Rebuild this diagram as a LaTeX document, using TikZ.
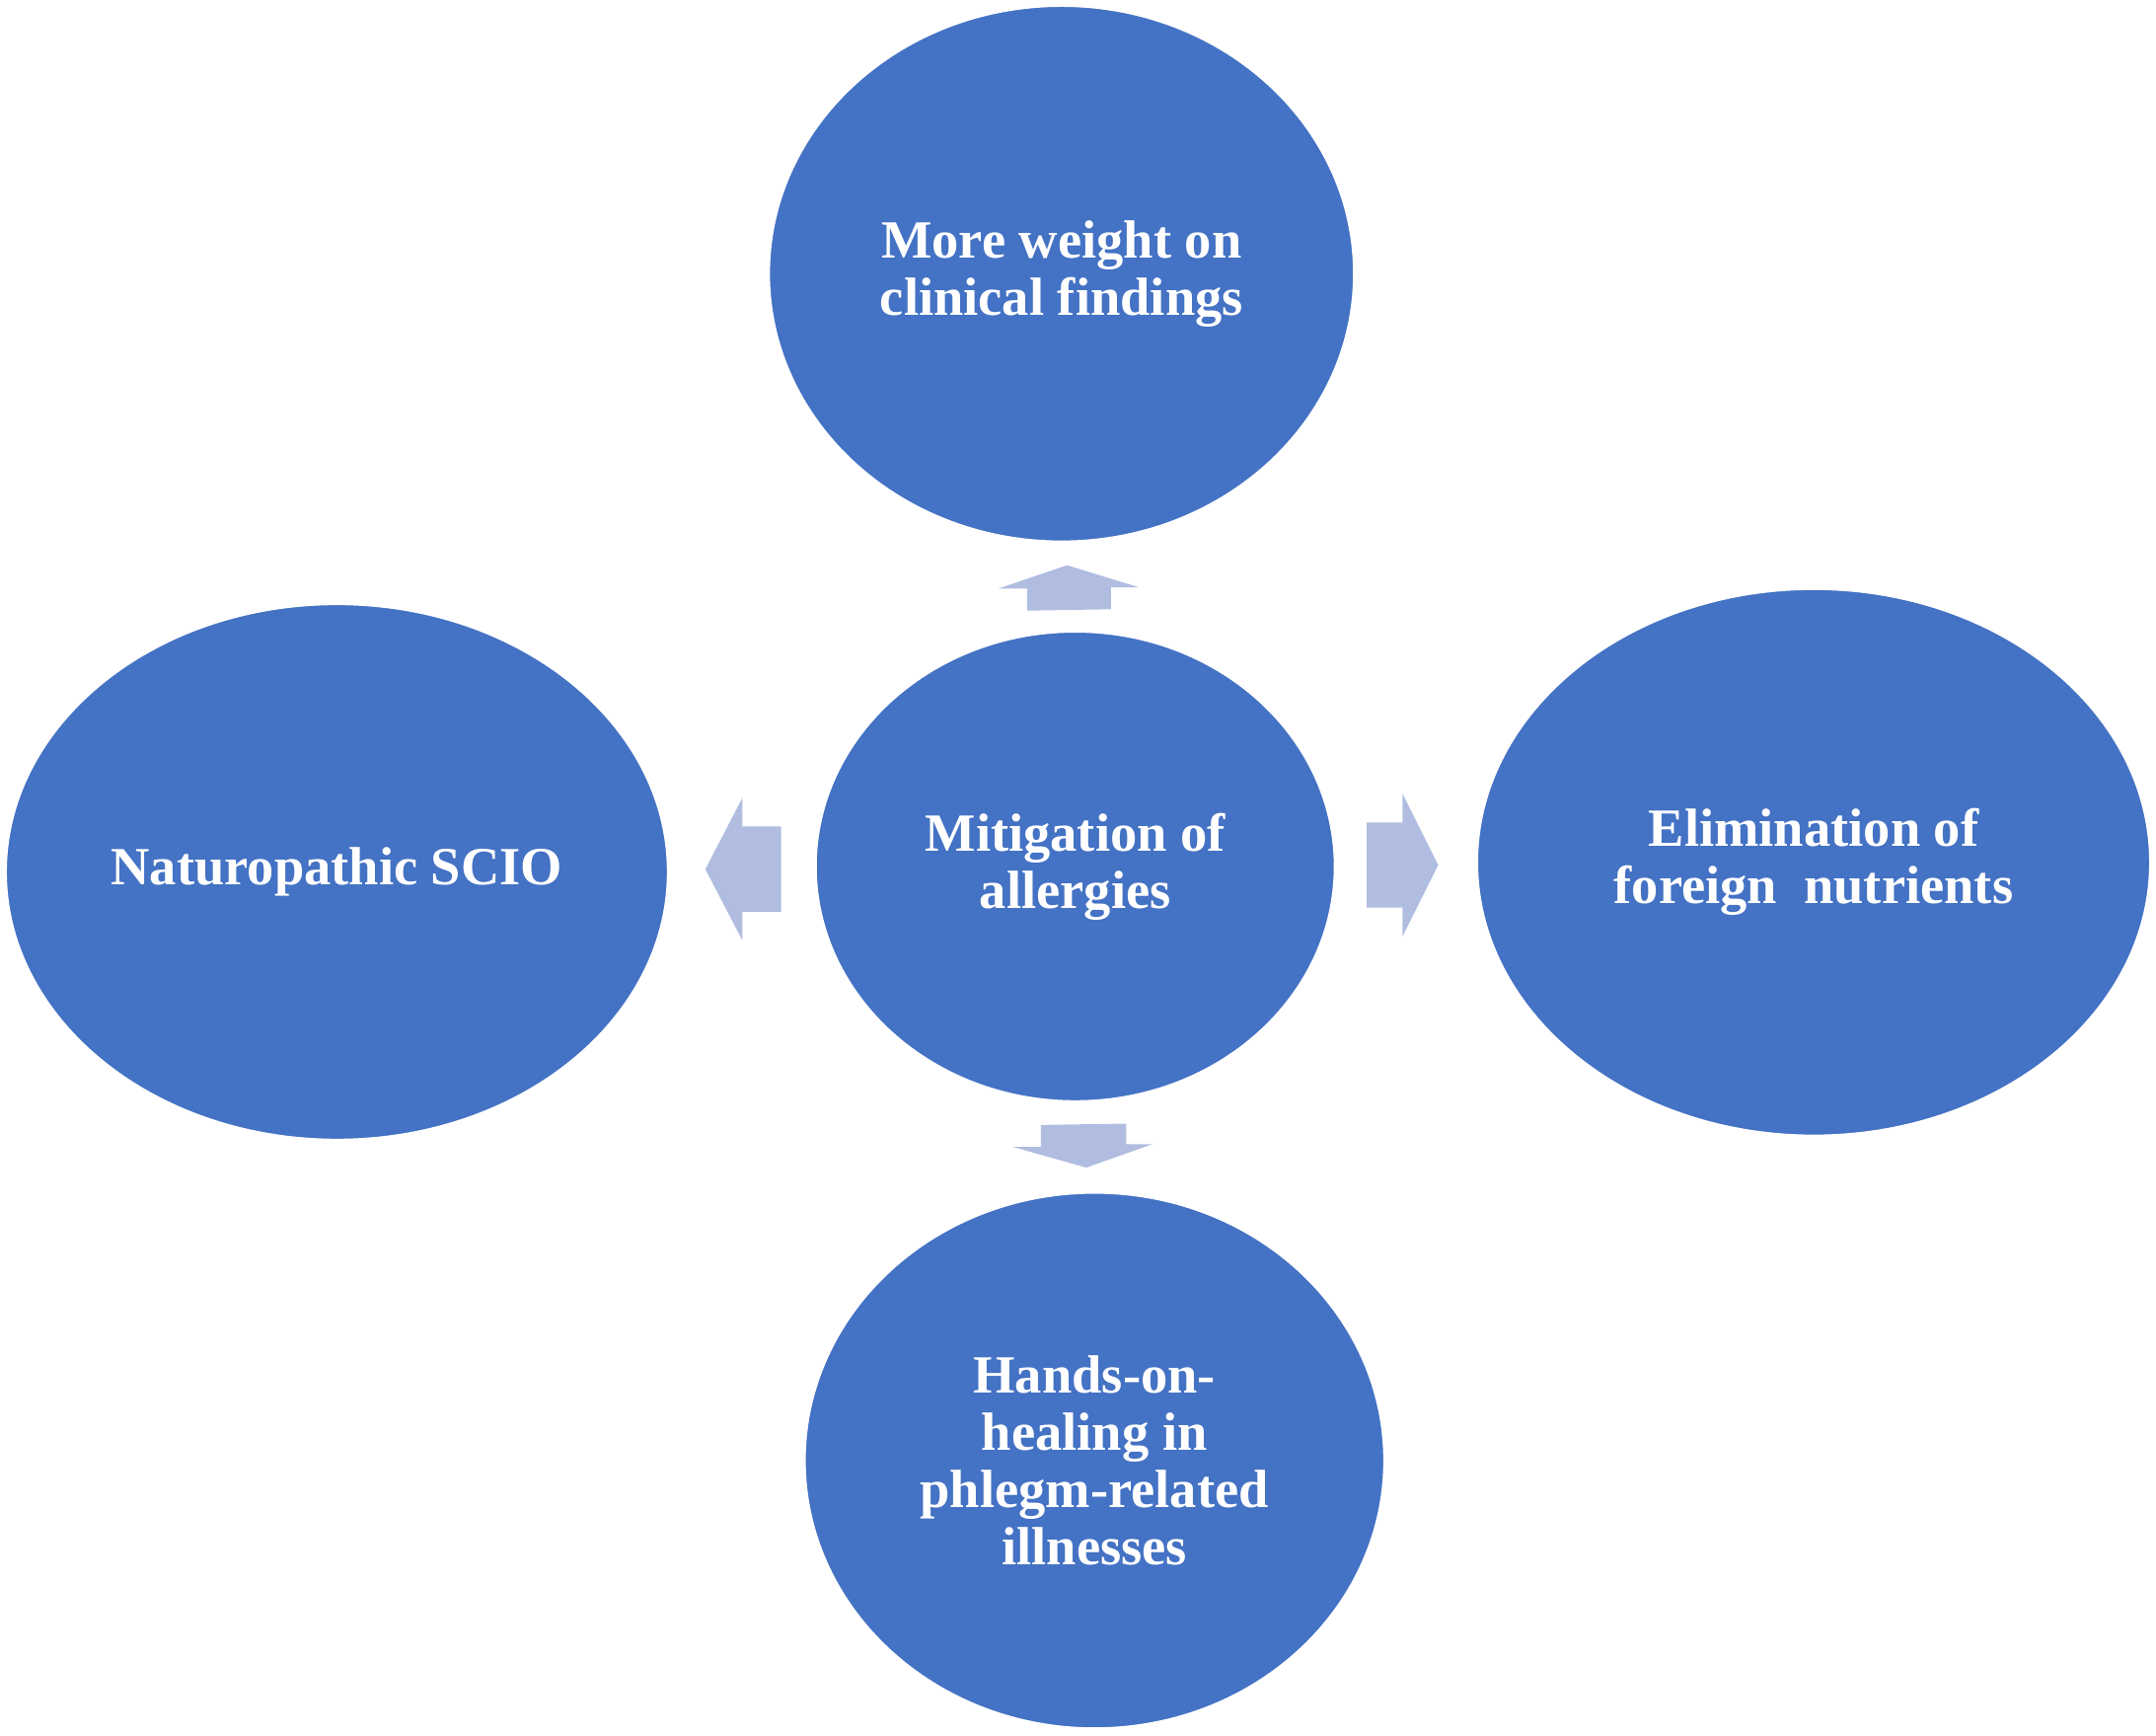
\documentclass[tikz,border=0pt]{standalone}
\usepackage{fontspec}
\setmainfont{Liberation Serif}
\usetikzlibrary{shapes.geometric}
\definecolor{blob}{HTML}{4472C4}
\definecolor{arr}{HTML}{B0BDE0}
\begin{document}
\begin{tikzpicture}[x=0.013935cm,y=-0.013935cm,
  blob/.style={ellipse,fill=blob,draw=white,line width=0.8pt,inner sep=0pt,text=white,align=center,
    font=\fontsize{15.5pt}{16.5pt}\selectfont\bfseries},
  arr/.style={fill=arr,draw=none}]
\useasboundingbox (0,0) rectangle (1568,1262);
\node[blob,minimum width=426*0.013935cm,minimum height=390*0.013935cm] (top) at (772,199) {More weight on\\clinical findings};
\node[blob,minimum width=378*0.013935cm,minimum height=342*0.013935cm] (mid) at (782,630) {Mitigation of\\allergies};
\node[blob,minimum width=482*0.013935cm,minimum height=390*0.013935cm] (left) at (245,634) {Naturopathic SCIO};
\node[blob,minimum width=490*0.013935cm,minimum height=398*0.013935cm] (right) at (1319,627) {Elimination of\\foreign\ \ nutrients};
\node[blob,minimum width=422*0.013935cm,minimum height=390*0.013935cm] (bot) at (796,1062) {Hands-on-\\healing in\\phlegm-related\\illnesses};
% arrows
\fill[arr] (776,411) -- (828,427) -- (808,427) -- (808,443) -- (747,444) -- (747,428) -- (726,428) -- cycle;
\fill[arr] (513,632) -- (540,580) -- (540,601) -- (568,601) -- (568,663) -- (540,663) -- (540,684) -- cycle;
\fill[arr] (1046,629) -- (1020,577) -- (1020,598) -- (994,598) -- (994,660) -- (1020,660) -- (1020,681) -- cycle;
\fill[arr] (790,849) -- (838,832) -- (819,832) -- (819,817) -- (757,818) -- (757,834) -- (737,834) -- cycle;
\end{tikzpicture}
\end{document}
